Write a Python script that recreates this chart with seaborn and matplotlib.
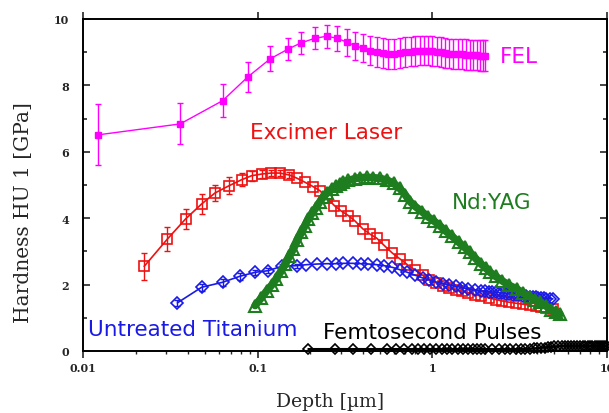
import matplotlib
matplotlib.use('Agg')
import matplotlib.pyplot as plt
import matplotlib.ticker as mticker
import seaborn as sns

# Data (depth in um, hardness in GPa)
fel_x = [0.0122, 0.036, 0.063, 0.088, 0.118, 0.150, 0.177, 0.213, 0.248, 0.286,
         0.324, 0.36, 0.40, 0.44, 0.48, 0.52, 0.56, 0.60, 0.65, 0.70, 0.75, 0.80,
         0.85, 0.90, 0.95, 1.00, 1.06, 1.12, 1.18, 1.25, 1.32, 1.40, 1.48, 1.56,
         1.64, 1.72, 1.80, 1.88, 1.95, 2.0]
fel_y = [6.51, 6.84, 7.54, 8.26, 8.80, 9.10, 9.28, 9.42, 9.48, 9.42,
         9.30, 9.20, 9.12, 9.05, 9.00, 8.97, 8.95, 8.95, 8.97, 9.00, 9.02, 9.04,
         9.05, 9.05, 9.05, 9.04, 9.02, 9.00, 8.98, 8.96, 8.95, 8.94, 8.94, 8.93,
         8.92, 8.92, 8.91, 8.90, 8.90, 8.90]
fel_err = [0.92, 0.62, 0.50, 0.45, 0.38, 0.32, 0.32, 0.33, 0.35, 0.38,
           0.40, 0.42, 0.43, 0.44, 0.45, 0.45, 0.45, 0.45, 0.45, 0.45, 0.45, 0.45,
           0.45, 0.45, 0.45, 0.45, 0.45, 0.45, 0.45, 0.45, 0.46, 0.46, 0.46, 0.46,
           0.46, 0.46, 0.46, 0.46, 0.46, 0.46]

exc_x = [0.0224, 0.0304, 0.0387, 0.0478, 0.057, 0.0687, 0.081, 0.0924, 0.1054, 0.1196,
         0.134, 0.152, 0.167, 0.187, 0.208, 0.227, 0.25, 0.275, 0.30, 0.33,
         0.36, 0.40, 0.44, 0.48, 0.53, 0.59, 0.65, 0.72, 0.80, 0.88,
         0.96, 1.05, 1.15, 1.25, 1.36, 1.48, 1.6, 1.75, 1.9, 2.1,
         2.3, 2.5, 2.75, 3.0, 3.3, 3.6, 3.9, 4.2, 4.5, 4.9]
exc_y = [2.55, 3.37, 3.98, 4.43, 4.76, 4.98, 5.16, 5.28, 5.33, 5.36,
         5.36, 5.30, 5.21, 5.08, 4.95, 4.83, 4.60, 4.38, 4.22, 4.08,
         3.92, 3.68, 3.52, 3.40, 3.18, 2.95, 2.78, 2.60, 2.43, 2.28,
         2.15, 2.05, 1.97, 1.90, 1.84, 1.80, 1.76, 1.70, 1.65, 1.60,
         1.55, 1.51, 1.47, 1.44, 1.41, 1.38, 1.35, 1.32, 1.30, 1.27]
exc_err = [0.40, 0.35, 0.30, 0.30, 0.25, 0.25, 0.20, 0.15, 0.12, 0.10, 0.10, 0.08]

ti_x = [0.0347, 0.0478, 0.063, 0.079, 0.0967, 0.115, 0.137, 0.167, 0.19, 0.22,
        0.25, 0.28, 0.31, 0.35, 0.39, 0.43, 0.48, 0.53, 0.59, 0.65,
        0.72, 0.80, 0.88, 0.96, 1.05, 1.15, 1.25, 1.36, 1.48, 1.6,
        1.75, 1.9, 2.0, 2.1, 2.2, 2.3, 2.4, 2.5, 2.65, 2.75, 2.9, 3.0, 3.15,
        3.3, 3.45, 3.6, 3.75, 3.9, 4.05, 4.2, 4.35, 4.5, 4.7, 4.9]
ti_y = [1.45, 1.92, 2.07, 2.25, 2.37, 2.42, 2.55, 2.57, 2.60, 2.62,
        2.63, 2.63, 2.64, 2.64, 2.63, 2.62, 2.60, 2.57, 2.52, 2.45,
        2.37, 2.28, 2.20, 2.14, 2.08, 2.03, 1.99, 1.95, 1.91, 1.87,
        1.84, 1.81, 1.80, 1.79, 1.78, 1.77, 1.76, 1.75, 1.73, 1.72, 1.70, 1.69, 1.68,
        1.67, 1.65, 1.64, 1.63, 1.62, 1.61, 1.60, 1.59, 1.58, 1.58, 1.57]
ti_err = [0.08, 0.10, 0.10, 0.10, 0.08, 0.08, 0.06, 0.06]

yag_x = [0.0967, 0.105, 0.113, 0.121, 0.128, 0.136, 0.144, 0.152, 0.16, 0.169,
         0.178, 0.187, 0.195, 0.205, 0.215, 0.226, 0.237, 0.25, 0.265, 0.28,
         0.295, 0.308, 0.33, 0.36, 0.385, 0.42, 0.46, 0.5, 0.55, 0.6,
         0.65, 0.7, 0.745, 0.8, 0.87, 0.94, 1.02, 1.105, 1.2, 1.3,
         1.42, 1.53, 1.64, 1.76, 1.9, 2.02, 2.14, 2.3, 2.5, 2.75,
         3.04, 3.3, 3.6, 3.85, 4.13, 4.45, 4.8, 5.1, 5.37]
yag_y = [1.37, 1.60, 1.82, 2.00, 2.17, 2.40, 2.62, 2.85, 3.07, 3.33,
         3.57, 3.78, 3.98, 4.15, 4.30, 4.48, 4.63, 4.76, 4.88, 4.97,
         5.03, 5.08, 5.14, 5.19, 5.22, 5.23, 5.22, 5.20, 5.15, 5.05,
         4.90, 4.70, 4.50, 4.35, 4.20, 4.05, 3.92, 3.77, 3.60, 3.45,
         3.27, 3.12, 2.97, 2.80, 2.62, 2.50, 2.37, 2.25, 2.12, 1.98,
         1.87, 1.75, 1.64, 1.55, 1.47, 1.36, 1.25, 1.17, 1.11]

fs_x = [0.195, 0.277, 0.353, 0.446, 0.547, 0.62, 0.69, 0.76, 0.83, 0.9,
        0.97, 1.05, 1.13, 1.21, 1.3, 1.4, 1.5, 1.6, 1.7, 1.8,
        1.9, 2.0, 2.2, 2.4, 2.6, 2.8, 3.0, 3.2, 3.4, 3.6,
        3.8, 4.0, 4.2, 4.4, 4.6, 4.8, 5.0, 5.25, 5.5, 5.75,
        6.0, 6.25, 6.5, 6.75, 7.0, 7.25, 7.5, 7.75, 8.0, 8.25,
        8.5, 8.75, 9.0, 9.25, 9.5, 9.75, 10.0]
fs_y = [0.06, 0.06, 0.06, 0.06, 0.06, 0.06, 0.06, 0.06, 0.06, 0.06,
        0.06, 0.06, 0.06, 0.06, 0.06, 0.06, 0.06, 0.06, 0.06, 0.06,
        0.06, 0.06, 0.06, 0.06, 0.06, 0.06, 0.06, 0.06, 0.06, 0.06,
        0.08, 0.08, 0.10, 0.10, 0.12, 0.12, 0.14, 0.14, 0.15, 0.15,
        0.15, 0.15, 0.15, 0.15, 0.15, 0.15, 0.15, 0.15, 0.15, 0.15,
        0.15, 0.15, 0.15, 0.15, 0.15, 0.15, 0.15]

x_ticks = [0.01, 0.1, 1, 10]
x_tick_labels = ['0.01', '0.1', '1', '10']
y_ticks = [0, 2, 4, 6, 8, 10]

c_fel = '#ff00ff'
c_exc = '#ee1111'
c_ti = '#1a1ae6'
c_yag = '#1e7d1e'
c_fs = 'black'

sns.set_style('ticks')
plt.rcParams['font.family'] = ['DejaVu Sans']

fig = plt.figure(figsize=(6.09, 4.14), dpi=100)
ax = fig.add_axes([83 / 609, 62 / 414, 524 / 609, 332 / 414])

# FEL
ax.errorbar(fel_x, fel_y, yerr=fel_err, fmt='none', ecolor=c_fel, elinewidth=1.0,
            capsize=2.5, capthick=1.0, zorder=2)
sns.lineplot(x=fel_x, y=fel_y, ax=ax, color=c_fel, lw=1.0, marker='s', markersize=5,
             markerfacecolor=c_fel, markeredgecolor=c_fel, markeredgewidth=1, zorder=3)

# Excimer laser
ax.errorbar(exc_x[:len(exc_err)], exc_y[:len(exc_err)], yerr=exc_err, fmt='none',
            ecolor=c_exc, elinewidth=1.0, capsize=2, capthick=1.0, zorder=2)
sns.lineplot(x=exc_x, y=exc_y, ax=ax, color=c_exc, lw=1.2, marker='s', markersize=7.5,
             markerfacecolor='none', markeredgecolor=c_exc, markeredgewidth=1.2, zorder=3)

# Untreated titanium
ax.errorbar(ti_x[:len(ti_err)], ti_y[:len(ti_err)], yerr=ti_err, fmt='none',
            ecolor=c_ti, elinewidth=1.0, capsize=2, zorder=2)
sns.lineplot(x=ti_x, y=ti_y, ax=ax, color=c_ti, lw=1.2, marker='D', markersize=6.5,
             markerfacecolor='none', markeredgecolor=c_ti, markeredgewidth=1.2, zorder=3)

# Nd:YAG
sns.lineplot(x=yag_x, y=yag_y, ax=ax, color=c_yag, lw=5.5, marker='^', markersize=8,
             markerfacecolor='none', markeredgecolor=c_yag, markeredgewidth=1.5, zorder=4)

# Femtosecond pulses
sns.lineplot(x=fs_x, y=fs_y, ax=ax, color=c_fs, lw=1.5, marker='D', markersize=5.5,
             markerfacecolor='none', markeredgecolor=c_fs, markeredgewidth=1.2,
             zorder=5, clip_on=False)

ax.set_xscale('log')
ax.set_xlim(0.01, 10)
ax.set_ylim(0, 10)
ax.set_xticks(x_ticks)
ax.set_xticklabels(x_tick_labels)
ax.set_yticks(y_ticks)
ax.yaxis.set_minor_locator(mticker.MultipleLocator(1))
ax.xaxis.set_minor_locator(mticker.LogLocator(base=10, subs=range(2, 10)))
ax.xaxis.set_minor_formatter(mticker.NullFormatter())

for s in ax.spines.values():
    s.set_linewidth(1.4)
    s.set_color('black')

ax.tick_params(axis='x', which='major', direction='out', length=5, width=1.2,
               top=True, labelsize=8, pad=3)
ax.tick_params(axis='x', which='minor', direction='out', length=2.5, width=1.0, top=False)
ax.tick_params(axis='y', which='both', direction='in', right=True, width=1.2,
               labelsize=8, pad=10)
ax.tick_params(axis='y', which='major', length=5)
ax.tick_params(axis='y', which='minor', length=3)
for lab in ax.get_xticklabels() + ax.get_yticklabels():
    lab.set_fontfamily('DejaVu Serif')
    lab.set_fontweight('bold')

ax.set_xlabel('Depth [\u00b5m]', family='DejaVu Serif', fontsize=13.5)
ax.set_ylabel('Hardness HU 1 [GPa]', family='DejaVu Serif', fontsize=14.5)
ax.xaxis.set_label_coords((330 - 83) / 524, (352 - 393) / 332)
ax.yaxis.set_label_coords((33 - 83) / 524, (352 - 213) / 332)

ax.text(0.0903, 6.6, 'Excimer Laser', color=c_exc, fontsize=15.5, va='center', ha='left')
ax.text(2.44, 8.89, 'FEL', color=c_fel, fontsize=15.5, va='center', ha='left')
ax.text(1.29, 4.49, 'Nd:YAG', color=c_yag, fontsize=15.5, va='center', ha='left')
ax.text(0.0107, 0.66, 'Untreated Titanium', color=c_ti, fontsize=15.5, va='center', ha='left')
ax.text(0.237, 0.57, 'Femtosecond Pulses', color=c_fs, fontsize=15.5, va='center', ha='left')

fig.savefig('out.png', dpi=100)
